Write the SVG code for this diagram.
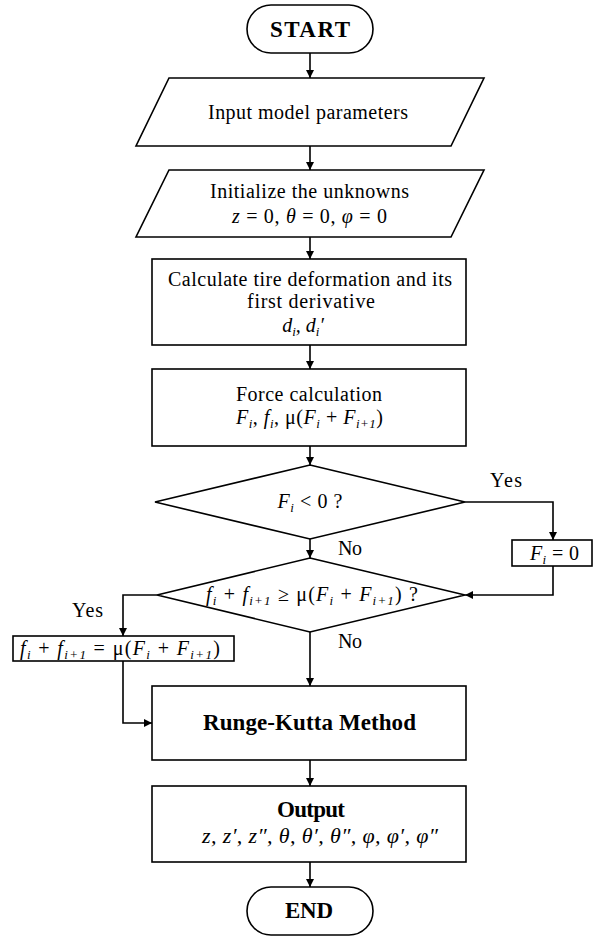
<svg xmlns="http://www.w3.org/2000/svg" width="597" height="938" viewBox="0 0 597 938">
<style>
.s{fill:#fff;stroke:#000;stroke-width:1.6}
.c{fill:none;stroke:#000;stroke-width:1.6}
text{font-family:"Liberation Serif","Times New Roman",serif;font-size:20px;fill:#000}
.m{text-anchor:middle}
.b{font-weight:bold;font-size:23px}
.i{font-style:italic}
.sub{font-size:13px}
</style>
<defs>
<marker id="a" viewBox="0 0 10 10" refX="10" refY="5" markerWidth="9" markerHeight="8" markerUnits="userSpaceOnUse" orient="auto">
<path d="M0,0 L10,5 L0,10 z" fill="#000"/>
</marker>
</defs>
<rect width="597" height="938" fill="#fff"/>
<g id="connectors" class="c" marker-end="url(#a)">
<path d="M310,53 V78"/>
<path d="M310,146 V170"/>
<path d="M310,237 V259"/>
<path d="M310,345 V369"/>
<path d="M310,446 V465"/>
<path d="M310,539 V558"/>
<path d="M465,502 H553 V540"/>
<path d="M553,566 V595 H465"/>
<path d="M157,595 H123 V636"/>
<path d="M123,661 V723 H152"/>
<path d="M310,632 V686"/>
<path d="M310,760 V786"/>
<path d="M310,862 V887"/>
</g>
<g id="start">
<rect class="s" x="247" y="5" width="126" height="48" rx="24"/>
<text class="m b" x="310" y="37" textLength="80">START</text>
</g>
<g id="input">
<polygon class="s" points="169,78 484,78 451,146 136,146"/>
<text class="m" x="308" y="119" textLength="200">Input model parameters</text>
</g>
<g id="init">
<polygon class="s" points="169,170 484,170 451,237 136,237"/>
<text class="m" x="309.5" y="198" textLength="199">Initialize the unknowns</text>
<text class="m" x="309.5" y="223" textLength="155"><tspan class="i">z</tspan> = 0, <tspan class="i">θ</tspan> = 0, <tspan class="i">φ</tspan> = 0</text>
</g>
<g id="calc">
<rect class="s" x="152" y="259" width="314" height="86"/>
<text class="m" x="310" y="286" textLength="284">Calculate tire deformation and its</text>
<text class="m" x="311" y="308" textLength="128">first derivative</text>
<text class="m i" x="303" y="332"><tspan>d</tspan><tspan class="sub" dy="4">i</tspan><tspan dy="-4">, d</tspan><tspan class="sub" dy="4">i</tspan><tspan dy="-4">′</tspan></text>
</g>
<g id="force">
<rect class="s" x="152" y="369" width="314" height="77"/>
<text class="m" x="309" y="401" textLength="146">Force calculation</text>
<text class="m" x="309.5" y="424" textLength="147"><tspan class="i">F</tspan><tspan class="sub i" dy="4">i</tspan><tspan dy="-4">, </tspan><tspan class="i">f</tspan><tspan class="sub i" dy="4">i</tspan><tspan dy="-4">, μ(</tspan><tspan class="i">F</tspan><tspan class="sub i" dy="4">i</tspan><tspan dy="-4"> + </tspan><tspan class="i">F</tspan><tspan class="sub i" dy="4">i+1</tspan><tspan dy="-4">)</tspan></text>
</g>
<g id="dec1">
<polygon class="s" points="310,465 465,502 310,539 155,502"/>
<text class="m" x="310" y="508" textLength="65"><tspan class="i">F</tspan><tspan class="sub i" dy="4">i</tspan><tspan dy="-4"> &lt; 0 ?</tspan></text>
</g>
<g id="fzero">
<rect class="s" x="512" y="540" width="80" height="26"/>
<text class="m" x="554.5" y="560" textLength="49"><tspan class="i">F</tspan><tspan class="sub i" dy="4">i</tspan><tspan dy="-4"> = 0</tspan></text>
</g>
<g id="dec2">
<polygon class="s" points="310,558 465,595 310,632 157,595"/>
<text class="m" x="312" y="601" textLength="212"><tspan class="i">f</tspan><tspan class="sub i" dy="4">i</tspan><tspan dy="-4"> + </tspan><tspan class="i">f</tspan><tspan class="sub i" dy="4">i+1</tspan><tspan dy="-4"> ≥ μ(</tspan><tspan class="i">F</tspan><tspan class="sub i" dy="4">i</tspan><tspan dy="-4"> + </tspan><tspan class="i">F</tspan><tspan class="sub i" dy="4">i+1</tspan><tspan dy="-4">) ?</tspan></text>
</g>
<g id="limit">
<rect class="s" x="13" y="636" width="221" height="25"/>
<text class="m" x="120" y="655" textLength="200"><tspan class="i">f</tspan><tspan class="sub i" dy="4">i</tspan><tspan dy="-4"> + </tspan><tspan class="i">f</tspan><tspan class="sub i" dy="4">i+1</tspan><tspan dy="-4"> = μ(</tspan><tspan class="i">F</tspan><tspan class="sub i" dy="4">i</tspan><tspan dy="-4"> + </tspan><tspan class="i">F</tspan><tspan class="sub i" dy="4">i+1</tspan><tspan dy="-4">)</tspan></text>
</g>
<g id="labels">
<text x="490" y="487" textLength="32">Yes</text>
<text x="72" y="617" textLength="31">Yes</text>
<text x="338" y="555" textLength="24">No</text>
<text x="338" y="648" textLength="24">No</text>
</g>
<g id="rk">
<rect class="s" x="152" y="686" width="314" height="74"/>
<text class="m b" x="309.5" y="730" textLength="213">Runge-Kutta Method</text>
</g>
<g id="output">
<rect class="s" x="152" y="786" width="314" height="76"/>
<text class="m b" x="311" y="817" textLength="68">Output</text>
<text class="m i" x="320" y="843" style="font-size:22px" textLength="236">z, z′, z″, θ, θ′, θ″, φ, φ′, φ″</text>
</g>
<g id="end">
<rect class="s" x="247" y="887" width="126" height="48" rx="24"/>
<text class="m b" x="309" y="918" textLength="48">END</text>
</g>
</svg>
